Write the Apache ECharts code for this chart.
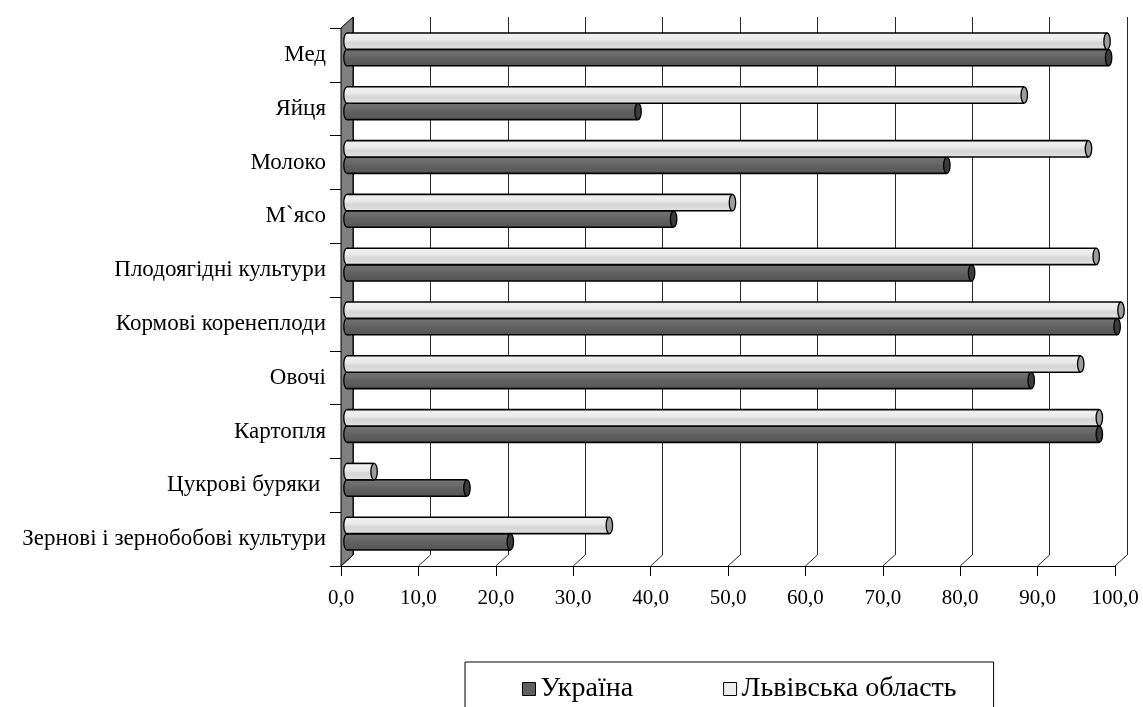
<!DOCTYPE html>
<html>
<head>
<meta charset="utf-8">
<script src="https://cdn.jsdelivr.net/npm/echarts@6/dist/echarts.min.js"></script>
<style>
html,body{margin:0;padding:0;background:#fff;}
#chart{width:1143px;height:707px;}
</style>
</head>
<body>
<div id="chart"></div>
<script>
// ---- data (top to bottom) ----
const categories = ['Мед','Яйця','Молоко','М`ясо','Плодоягідні культури','Кормові коренеплоди','Овочі','Картопля','Цукрові буряки ','Зернові і зернобобові культури'];
const ukraine = [98.4, 37.6, 77.5, 42.2, 80.7, 99.5, 88.4, 97.2, 15.5, 21.1];
const lviv    = [98.2, 87.5, 95.8, 49.8, 96.8, 100.0, 94.8, 97.2, 3.5, 33.9];
const xTicks  = [0,10,20,30,40,50,60,70,80,90,100];
const seriesNames = ['Україна','Львівська область'];

// ---- style constants ----
const DX = 12, DY = 11;           // 3D depth offset
const FONT = 'Liberation Serif';
const G = echarts.graphic;

function cylinder(sign, stops, capColor){
  return function(params, api){
    const v = api.value(0), c = api.value(1);
    const p0 = api.coord([0, c]);
    const p1 = api.coord([v, c]);
    const band = api.size([0, 1])[1];
    const h = band * 0.305;
    const cy = p0[1] + sign * h / 2 - DY / 2;
    const x0 = p0[0] + DX / 2, x1 = p1[0] + DX / 2;
    const rx = 3.2, ry = h / 2;
    const grad = () => new G.LinearGradient(0, 0, 0, 1, stops);
    return {
      type: 'group',
      children: [
        {type:'ellipse', shape:{cx:x0, cy:cy, rx:rx, ry:ry}, style:{fill:grad(), stroke:'#000', lineWidth:1.3}},
        {type:'rect', shape:{x:x0, y:cy-h/2, width:Math.max(0,x1-x0), height:h}, style:{fill:grad(), stroke:null}},
        {type:'line', shape:{x1:x0, y1:cy-h/2, x2:x1, y2:cy-h/2}, style:{stroke:'#000', lineWidth:1.6}},
        {type:'line', shape:{x1:x0, y1:cy+h/2, x2:x1, y2:cy+h/2}, style:{stroke:'#000', lineWidth:1.6}},
        {type:'ellipse', shape:{cx:x1, cy:cy, rx:rx, ry:ry}, style:{fill:capColor, stroke:'#000', lineWidth:1.3}}
      ]
    };
  };
}

const ukrStops = [{offset:0,color:'#737373'},{offset:0.3,color:'#6b6b6b'},{offset:0.55,color:'#606060'},{offset:1,color:'#555555'}];
const lvivStops = [{offset:0,color:'#f2f2f2'},{offset:0.4,color:'#eaeaea'},{offset:0.6,color:'#d6d6d6'},{offset:0.8,color:'#dadada'},{offset:1,color:'#e6e6e6'}];

const chart = echarts.init(document.getElementById('chart'), null, {renderer:'canvas'});

const option = {
  backgroundColor: '#fff',
  animation: false,
  grid: [
    {left: 353, right: 16, top: 17, bottom: 152},  // back plane
    {left: 341, right: 28, top: 28, bottom: 141}   // front plane
  ],
  xAxis: [
    {gridIndex:0, type:'value', min:0, max:100, interval:10,
     axisLine:{show:false}, axisTick:{show:false}, axisLabel:{show:false},
     splitLine:{show:true, lineStyle:{color:'#2a2a2a', width:1}}},
    {gridIndex:1, type:'value', min:0, max:100, interval:10,
     axisLine:{show:true, lineStyle:{color:'#000', width:1}},
     axisTick:{show:true, length:10, lineStyle:{color:'#000'}},
     splitLine:{show:false},
     axisLabel:{margin:22, color:'#000', fontFamily:FONT, fontSize:21,
       formatter: v => v.toFixed(1).replace('.', ',')}}
  ],
  yAxis: [
    {gridIndex:0, type:'category', data:categories, inverse:true, show:false},
    {gridIndex:1, type:'category', data:categories, inverse:true,
     axisLine:{show:true, lineStyle:{color:'#000'}},
     axisTick:{show:true, length:11, lineStyle:{color:'#000'}},
     splitLine:{show:false},
     axisLabel:{margin:15, color:'#000', fontFamily:FONT, fontSize:23}}
  ],
  legend: {
    left: 465, top: 662,
    padding: [13, 37, 40, 57],
    borderColor: '#000', borderWidth: 1,
    itemGap: 90, itemWidth: 13, itemHeight: 13,
    icon: 'rect',
    textStyle: {fontFamily: FONT, fontSize: 28, color: '#000'},
    data: [
      {name: seriesNames[0], itemStyle:{color:'#606060', borderColor:'#000', borderWidth:1}},
      {name: seriesNames[1], itemStyle:{color:'#eeeeee', borderColor:'#000', borderWidth:1}}
    ]
  },
  series: [
    {
      type:'custom', name:'floor', xAxisIndex:1, yAxisIndex:1, silent:true, z:1,
      data: xTicks.map(v => [v, 0]),
      encode:{x:0, y:1},
      renderItem: function(params, api){
        const cs = params.coordSys;
        const x = api.coord([api.value(0), 0])[0];
        const yb = cs.y + cs.height;
        return {type:'line', shape:{x1:x, y1:yb, x2:x+DX, y2:yb-DY}, style:{stroke:'#2a2a2a', lineWidth:1}};
      }
    },
    {
      type:'custom', name:'wall', xAxisIndex:1, yAxisIndex:1, silent:true, z:2,
      data: [[0, 0]],
      encode:{x:0, y:1},
      renderItem: function(params, api){
        const cs = params.coordSys;
        const x = cs.x, y = cs.y, h = cs.height;
        return {type:'polygon', shape:{points:[[x,y],[x+DX,y-DY],[x+DX,y+h-DY],[x,y+h]]},
                style:{fill:'#808080', stroke:'#000', lineWidth:1}};
      }
    },
    {
      type:'custom', name: seriesNames[0], xAxisIndex:1, yAxisIndex:1, z:4,
      itemStyle:{color:'#606060'},
      data: ukraine.map((v,i) => [v, i]),
      encode:{x:0, y:1},
      renderItem: cylinder(1, ukrStops, '#3c3c3c')
    },
    {
      type:'custom', name: seriesNames[1], xAxisIndex:1, yAxisIndex:1, z:5,
      itemStyle:{color:'#eeeeee'},
      data: lviv.map((v,i) => [v, i]),
      encode:{x:0, y:1},
      renderItem: cylinder(-1, lvivStops, '#9c9c9c')
    }
  ]
};
chart.setOption(option);
</script>
</body>
</html>
